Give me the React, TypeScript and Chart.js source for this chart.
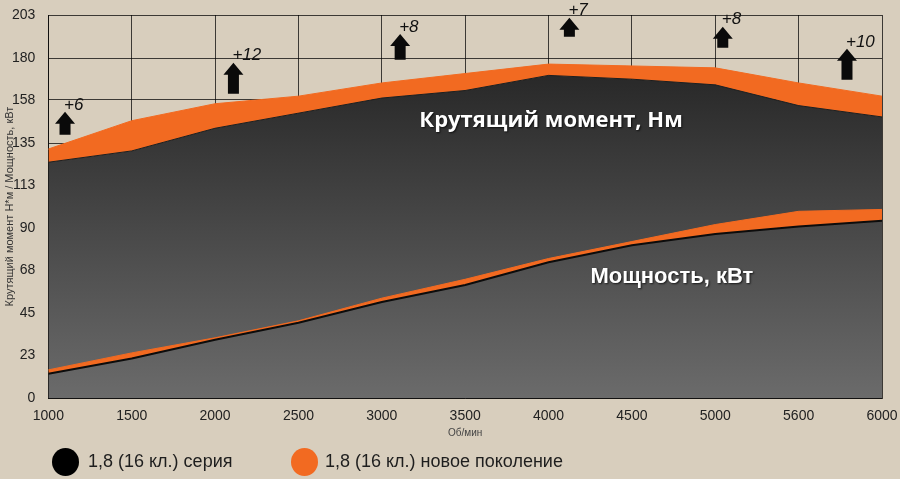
import React, { useEffect, useRef } from 'react';
import { Chart, registerables } from 'chart.js';

Chart.register(...registerables);

// engine speed, rpm
const rpmLabels = ['1000', '1500', '2000', '2500', '3000', '3500', '4000', '4500', '5000', '5600', '6000'];

// torque, Nm
const torqueSeries = [125, 131, 143, 151, 159, 163, 171, 169, 166, 155, 149];
const torqueNew = [132, 147, 156, 160, 167, 172, 177, 176, 175, 167, 160];

// power, kW
const powerSeries = [13, 21, 31, 40, 51, 60, 72, 81, 87, 91, 94];
const powerNew = [15, 24, 32, 41, 53, 63, 74, 83, 92, 99, 100];

const yTickLabels = [0, 23, 45, 68, 90, 113, 135, 158, 180, 203];

// gain arrows: label, position on rpm axis (category index), tip and base value
const gainLabels = ['+6', '+12', '+8', '+7', '+8', '+10'];
const gainAt = [0.2, 2.22, 4.22, 6.25, 8.09, 9.58];
const gainTip = [151.7, 177.7, 193, 201.6, 196.8, 185.1];
const gainBase = [139.5, 161.3, 179.3, 191.5, 185.7, 168.7];

const ORANGE = '#f26a21';
const BEIGE = '#d8cebd';
const FONT = '"Liberation Sans", Arial, Helvetica, sans-serif';

const overlayPlugin = {
  id: 'overlay',
  afterDraw(chart: any) {
    const { ctx, chartArea, scales } = chart;
    const x = scales.x;
    const y = scales.y;
    ctx.save();

    // arrows with gain values
    gainLabels.forEach((label, i) => {
      const cx = x.getPixelForValue(gainAt[i]);
      const tip = y.getPixelForValue(gainTip[i]);
      const base = y.getPixelForValue(gainBase[i]);
      const headH = 12;
      ctx.fillStyle = '#0a0a0a';
      ctx.beginPath();
      ctx.moveTo(cx, tip);
      ctx.lineTo(cx + 10, tip + headH);
      ctx.lineTo(cx + 5.5, tip + headH);
      ctx.lineTo(cx + 5.5, base);
      ctx.lineTo(cx - 5.5, base);
      ctx.lineTo(cx - 5.5, tip + headH);
      ctx.lineTo(cx - 10, tip + headH);
      ctx.closePath();
      ctx.fill();
      ctx.font = `italic 17px ${FONT}`;
      ctx.textAlign = 'left';
      ctx.textBaseline = 'middle';
      ctx.fillStyle = '#111';
      ctx.fillText(label, cx - 1, tip - 7);
    });

    // curve names
    ctx.shadowColor = 'rgba(0,0,0,0.7)';
    ctx.shadowBlur = 2;
    ctx.shadowOffsetX = 1;
    ctx.shadowOffsetY = 1;
    ctx.fillStyle = '#ffffff';
    ctx.textAlign = 'center';
    ctx.textBaseline = 'middle';
    ctx.font = 'bold 22px "Open Sans", "DejaVu Sans", sans-serif';
    ctx.fillText('Крутящий момент, Нм', x.getPixelForValue(6.03), y.getPixelForValue(147));
    ctx.font = `bold 22px ${FONT}`;
    ctx.fillText('Мощность, кВт', x.getPixelForValue(7.48), y.getPixelForValue(64));
    ctx.restore();

    // y axis title
    ctx.save();
    ctx.translate(10, (chartArea.top + chartArea.bottom) / 2);
    ctx.rotate(-Math.PI / 2);
    ctx.font = `11px ${FONT}`;
    ctx.fillStyle = '#333';
    ctx.textAlign = 'center';
    ctx.textBaseline = 'middle';
    ctx.fillText('Крутящий момент Н*м / Мощность, кВт', 0, 0);
    ctx.restore();
  },
};

const App: React.FC = () => {
  const canvasRef = useRef<HTMLCanvasElement>(null);

  useEffect(() => {
    if (!canvasRef.current) return;
    const ctx = canvasRef.current.getContext('2d');
    if (!ctx) return;

    const darkFill = (context: any) => {
      const { chart } = context;
      const area = chart.chartArea;
      if (!area) return '#333';
      const g = chart.ctx.createLinearGradient(0, chart.scales.y.getPixelForValue(175), 0, area.bottom);
      g.addColorStop(0, '#272727');
      g.addColorStop(1, '#6b6b6b');
      return g;
    };

    const gridColor = 'rgba(0,0,0,0.72)';

    const chart = new Chart(ctx, {
      type: 'line',
      data: {
        labels: rpmLabels,
        datasets: [
          {
            label: 'Мощность, серия',
            data: powerSeries,
            borderColor: '#0c0c0c',
            borderWidth: 2,
            fill: false,
            pointRadius: 0,
          },
          {
            label: 'Мощность, новое поколение',
            data: powerNew,
            borderColor: ORANGE,
            borderWidth: 1,
            backgroundColor: ORANGE,
            fill: '-1',
            pointRadius: 0,
          },
          {
            label: 'Момент, серия',
            data: torqueSeries,
            borderColor: '#1e1e1e',
            borderWidth: 1,
            backgroundColor: darkFill,
            fill: 'origin',
            pointRadius: 0,
          },
          {
            label: 'Момент, новое поколение',
            data: torqueNew,
            borderColor: ORANGE,
            borderWidth: 1,
            backgroundColor: ORANGE,
            fill: '-1',
            pointRadius: 0,
          },
        ],
      },
      options: {
        responsive: true,
        maintainAspectRatio: false,
        animation: false,
        layout: { padding: { left: 7, right: 18, top: 15, bottom: 36 } },
        elements: { line: { tension: 0 } },
        plugins: {
          legend: { display: false },
          tooltip: { enabled: false },
        },
        scales: {
          x: {
            type: 'category',
            offset: false,
            z: 1,
            grid: { color: gridColor, lineWidth: 1, drawTicks: true, tickLength: 8, tickColor: 'transparent' },
            border: { color: gridColor },
            ticks: {
              padding: 2,
              color: '#222',
              font: { family: FONT, size: 14 },
              maxRotation: 0,
              autoSkip: false,
            },
            title: {
              display: true,
              text: 'Об/мин',
              color: '#444',
              font: { family: FONT, size: 10 },
              padding: { top: 0, bottom: 4 },
            },
          },
          y: {
            min: 0,
            max: 203,
            z: 1,
            afterBuildTicks: (axis: any) => {
              axis.ticks = yTickLabels.map((v) => ({ value: v }));
            },
            grid: { color: gridColor, lineWidth: 1, drawTicks: true, tickLength: 8, tickColor: 'transparent' },
            border: { color: gridColor },
            ticks: {
              padding: 5,
              color: '#222',
              font: { family: FONT, size: 14 },
            },
          },
        },
      },
      plugins: [overlayPlugin],
    });

    return () => {
      chart.destroy();
    };
  }, []);

  const legendText: React.CSSProperties = {
    position: 'absolute',
    top: 448,
    height: 27,
    lineHeight: '27px',
    fontSize: 18,
    color: '#1e1e1e',
    fontFamily: FONT,
    whiteSpace: 'nowrap',
  };
  const dot = (left: number, color: string): React.CSSProperties => ({
    position: 'absolute',
    left,
    top: 448,
    width: 27,
    height: 28,
    borderRadius: '50%',
    background: color,
  });

  return (
    <div style={{ position: 'fixed', left: 0, top: 0, width: 900, height: 479, background: BEIGE, overflow: 'hidden' }}>
      <div style={{ position: 'absolute', left: 0, top: 0, width: 900, height: 479 }}>
        <canvas ref={canvasRef}></canvas>
      </div>
      <div style={dot(52, '#000')}></div>
      <div style={{ ...legendText, left: 88 }}>1,8 (16 кл.) серия</div>
      <div style={dot(291, ORANGE)}></div>
      <div style={{ ...legendText, left: 325 }}>1,8 (16 кл.) новое поколение</div>
    </div>
  );
};

export default App;
